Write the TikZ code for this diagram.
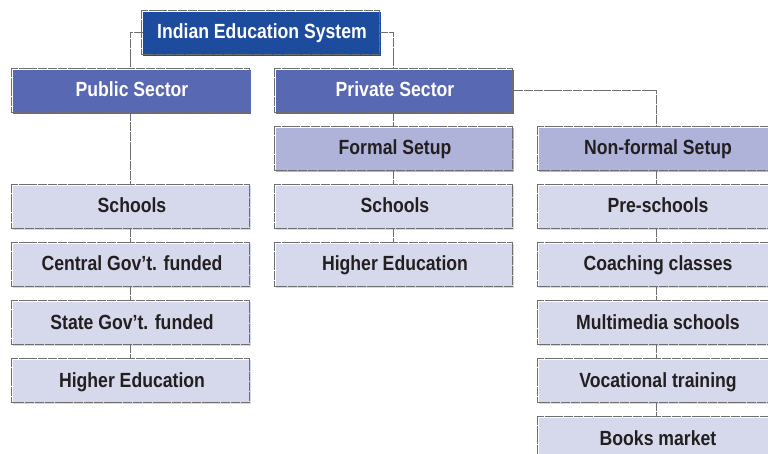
\documentclass[tikz,border=0pt]{standalone}
\usepackage{fontspec}
\newfontfamily\boxfont[FakeStretch=0.86]{Liberation Sans}
\usepackage{tikz}
\definecolor{deepblue}{HTML}{1D4B9E}
\definecolor{midblue}{HTML}{5868B2}
\definecolor{paleblue}{HTML}{AFB3D9}
\definecolor{mistblue}{HTML}{D6D8EC}
\definecolor{inkgray}{HTML}{231F20}
\definecolor{linegray}{HTML}{6E6E6E}
\tikzset{box/.style = {shape = rectangle, minimum width = 238pt, minimum height = 44pt, inner sep = 0pt,
		text height = 15pt, text depth = 5pt,
		font = \boxfont\bfseries\fontsize{20.5}{24}\selectfont}}
\tikzset{topbox/.style = {box, fill = deepblue, text = white}}
\tikzset{sectorbox/.style = {box, fill = midblue, text = white}}
\tikzset{setupbox/.style = {box, fill = paleblue, text = inkgray}}
\tikzset{itembox/.style = {box, fill = mistblue, text = inkgray}}
\tikzset{outline/.style = {draw = linegray, line width = 0.45pt, dash pattern = on 9pt off 0.8pt}}
\tikzset{link/.style = {-, draw = linegray, line width = 0.45pt, dash pattern = on 9pt off 0.8pt}}

\begin{document}
\begin{tikzpicture}[x = 1pt, y = -1pt]
				\useasboundingbox (0, 0) rectangle (768, 454);
				\clip (0, 0) rectangle (768, 454);

				\node[topbox] (a) at (262, 34) {Indian Education System};

				\node[sectorbox] (b) at (132, 92) {Public Sector};
				\node[itembox] (b1) at (132, 208) {Schools};
				\node[itembox] (b2) at (132, 266) {Central Gov’t. funded};
				\node[itembox] (b3) at (132, 324) {State Gov’t. funded};
				\node[itembox] (b4) at (132, 382) {Higher Education};

				\node[sectorbox] (c) at (395, 92) {Private Sector};
				\node[setupbox] (c1) at (395, 150) {Formal Setup};
				\node[itembox] (c2) at (395, 208) {Schools};
				\node[itembox] (c3) at (395, 266) {Higher Education};

				\node[setupbox] (d) at (658, 150) {Non-formal Setup};
				\node[itembox] (d1) at (658, 208) {Pre-schools};
				\node[itembox] (d2) at (658, 266) {Coaching classes};
				\node[itembox] (d3) at (658, 324) {Multimedia schools};
				\node[itembox] (d4) at (658, 382) {Vocational training};
				\node[itembox] (d5) at (658, 440) {Books market};

				% thin frame sitting a little up and left of each fill
				\foreach \n in {a, b, b1, b2, b3, b4, c, c1, c2, c3, d, d1, d2, d3, d4, d5}
					\draw[outline] ([xshift = -2pt, yshift = 2pt]\n.north west) rectangle ([xshift = -2pt, yshift = 2pt]\n.south east);

				\draw[link] ([yshift = 2pt]a.west) -| ([xshift = -2pt, yshift = 2pt]b.north);
				\draw[link] ([xshift = -2pt, yshift = 2pt]a.east) -| ([xshift = -2pt, yshift = 2pt]c.north);
				\draw[link] ([yshift = 2pt]c.east) -| ([xshift = -2pt, yshift = 2pt]d.north);

				\foreach \u/\v in {b/b1, b1/b2, b2/b3, b3/b4, c/c1, c1/c2, c2/c3, d/d1, d1/d2, d2/d3, d3/d4, d4/d5}
					\draw[link] ([xshift = -2pt, yshift = 2pt]\u.south) to ([xshift = -2pt, yshift = 2pt]\v.north);
			\end{tikzpicture}
\end{document}
